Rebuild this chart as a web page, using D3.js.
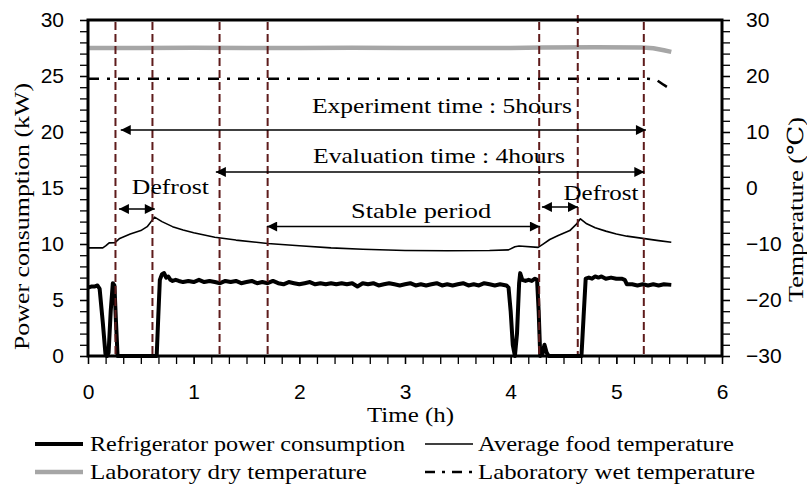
<!DOCTYPE html>
<html>
<head>
<meta charset="utf-8">
<script src="https://cdn.jsdelivr.net/npm/d3@7"></script>
<style>
  html, body { margin: 0; padding: 0; background: #fff; }
  svg { display: block; }
  .serif { font-family: "Liberation Serif", "DejaVu Serif", "Times New Roman", serif; }
  .sans { font-family: "Liberation Sans", Arial, Helvetica, sans-serif; }
</style>
</head>
<body>
<svg id="chart" width="807" height="497"></svg>
<script>
// ---------------- DATA ----------------
const xTicks = [0, 1, 2, 3, 4, 5, 6];
const powerTicks = [0, 5, 10, 15, 20, 25, 30];
const tempTicks = [-30, -20, -10, 0, 10, 20, 30];

// Refrigerator power consumption (kW) : [time h, kW]
const powerData = [
  [0,6.1],[0.03,6.2],[0.06,6.2],[0.09,6.3],[0.11,6.0],[0.14,3.0],[0.165,0.2],[0.18,0],[0.195,0.3],
  [0.215,4.0],[0.235,6.5],[0.25,6.3],[0.265,3.0],[0.28,0],[0.65,0],[0.665,3.5],[0.68,6.8],[0.70,7.3],
  [0.72,7.4],[0.74,7.0],[0.76,7.1],[0.78,6.8],[0.80,6.7],[0.83,6.8],[0.86,6.7],[0.90,6.6],[0.95,6.7],
  [1.00,6.6],[1.05,6.8],[1.10,6.6],[1.15,6.7],[1.20,6.6],[1.25,6.5],[1.30,6.7],[1.35,6.6],[1.40,6.7],
  [1.45,6.5],[1.50,6.6],[1.55,6.7],[1.60,6.5],[1.65,6.6],[1.70,6.5],[1.75,6.7],[1.80,6.5],[1.85,6.4],
  [1.90,6.6],[1.95,6.5],[2.00,6.4],[2.05,6.5],[2.10,6.6],[2.15,6.4],[2.20,6.5],[2.25,6.4],[2.30,6.5],
  [2.35,6.4],[2.40,6.5],[2.45,6.4],[2.50,6.5],[2.55,6.2],[2.60,6.5],[2.65,6.4],[2.70,6.5],[2.75,6.3],
  [2.80,6.4],[2.85,6.5],[2.90,6.4],[2.95,6.3],[3.00,6.4],[3.05,6.5],[3.10,6.3],[3.15,6.4],[3.20,6.3],
  [3.25,6.4],[3.30,6.5],[3.35,6.3],[3.40,6.4],[3.45,6.3],[3.50,6.4],[3.55,6.5],[3.60,6.3],[3.65,6.4],
  [3.70,6.3],[3.75,6.5],[3.80,6.4],[3.85,6.3],[3.90,6.4],[3.96,6.3],[3.98,6.1],[4.00,4.0],[4.02,1.0],
  [4.04,0],[4.06,2.0],[4.08,6.5],[4.09,7.4],[4.11,6.8],[4.14,6.7],[4.17,6.8],[4.20,6.7],[4.23,6.9],
  [4.25,6.8],[4.265,4.0],[4.28,0],[4.30,0.2],[4.32,1.0],[4.34,0.3],[4.36,0],[4.67,0],[4.69,3.5],
  [4.71,6.9],[4.74,7.0],[4.77,6.9],[4.80,7.1],[4.83,7.0],[4.86,7.1],[4.90,6.9],[4.95,7.0],[5.00,6.9],
  [5.05,6.9],[5.08,6.8],[5.10,6.4],[5.15,6.4],[5.20,6.3],[5.25,6.4],[5.30,6.3],[5.35,6.4],[5.40,6.3],
  [5.45,6.4],[5.52,6.35]
];

// Average food temperature (°C)
const foodTemp = [
  [0,-10.7],[0.14,-10.7],[0.17,-10.3],[0.20,-9.8],[0.255,-9.75],[0.30,-9.0],[0.40,-8.2],[0.50,-7.6],
  [0.56,-6.9],[0.63,-5.2],[0.70,-6.0],[0.80,-6.9],[0.90,-7.5],[1.00,-8.0],[1.20,-8.8],[1.40,-9.3],
  [1.70,-9.9],[2.00,-10.3],[2.30,-10.7],[2.60,-10.95],[3.00,-11.15],[3.40,-11.2],[3.80,-11.15],
  [3.98,-11.05],[4.04,-10.5],[4.08,-10.35],[4.26,-10.6],[4.30,-10.1],[4.37,-9.2],[4.45,-8.5],
  [4.56,-7.6],[4.62,-6.5],[4.66,-5.5],[4.72,-6.4],[4.80,-7.1],[4.90,-7.7],[5.00,-8.2],[5.10,-8.6],
  [5.25,-9.0],[5.40,-9.4],[5.52,-9.7]
];

// Laboratory dry temperature (°C)
const dryTemp = [
  [0,25.0],[0.5,25.0],[1.0,25.05],[1.5,25.0],[2.0,25.0],[2.5,25.05],[3.0,25.0],[3.5,25.0],[4.0,25.0],
  [4.3,25.1],[4.8,25.15],[5.25,25.1],[5.35,24.95],[5.45,24.6],[5.52,24.3]
];

// Laboratory wet temperature (°C)
const wetTemp = [
  [0,19.5],[1.0,19.5],[2.0,19.5],[3.0,19.5],[4.0,19.5],[5.0,19.5],[5.3,19.5],[5.38,19.3],[5.45,18.4],[5.52,17.6]
];

// Reference vertical lines (h)
const markerTimes = [0.26, 0.61, 1.245, 1.70, 4.27, 4.635, 5.26];

// Double-arrow annotations
const arrows = [
  { label: "Experiment time : 5hours", x0: 0.31, x1: 5.28, y: 20.18, tx: 2.12, ty: 21.7, len: 260 },
  { label: "Evaluation time : 4hours", x0: 1.21, x1: 5.265, y: 16.43, tx: 2.13, ty: 17.2, len: 252 },
  { label: "Stable period", x0: 1.695, x1: 4.277, y: 11.56, tx: 2.49, ty: 12.3, len: 140 },
  { label: "Defrost", x0: 0.293, x1: 0.632, y: 13.125, tx: 0.415, ty: 14.45, len: 77 },
  { label: "Defrost", x0: 4.296, x1: 4.637, y: 13.3, tx: 4.50, ty: 13.9, len: 75 }
];

const legendItems = [
  { label: "Refrigerator power consumption", type: "power", col: 0, row: 0, len: 315 },
  { label: "Average food temperature", type: "food", col: 1, row: 0, len: 256 },
  { label: "Laboratory dry temperature", type: "dry", col: 0, row: 1, len: 277 },
  { label: "Laboratory wet temperature", type: "wet", col: 1, row: 1, len: 277 }
];

// ---------------- LAYOUT ----------------
const svg = d3.select("#chart");
const L = 88, T = 20, R = 722, B = 356;
const x = d3.scaleLinear().domain([0, 6]).range([L, R]);
const yP = d3.scaleLinear().domain([0, 30]).range([B, T]);
const yT = d3.scaleLinear().domain([-30, 30]).range([B, T]);

const styles = {
  power: { stroke: "#000", width: 4, dash: null },
  food: { stroke: "#000", width: 1.6, dash: null },
  dry: { stroke: "#a6a6a6", width: 4.5, dash: null },
  wet: { stroke: "#000", width: 2.6, dash: "11,8,3,8" }
};

// ---------------- AXES ----------------
function styleAxis(g) {
  g.select(".domain").remove();
  g.attr("font-family", null).attr("font-size", null);
  g.selectAll(".tick line").attr("stroke", "#000").attr("stroke-width", 1.3);
  g.selectAll(".tick text").attr("class", "sans").style("font-size", "21px").attr("fill", "#000");
}

svg.append("g").attr("transform", `translate(0,${B})`)
  .call(d3.axisBottom(x).tickValues(d3.range(0, 37).map(i => i / 6)).tickSize(8).tickFormat(""))
  .call(styleAxis);
svg.append("g").attr("transform", `translate(0,${B})`)
  .call(d3.axisBottom(x).tickValues(xTicks).tickSize(8).tickPadding(20).tickFormat(d3.format("d")))
  .call(styleAxis);

svg.append("g").attr("transform", `translate(${L},0)`)
  .call(d3.axisLeft(yP).tickValues(d3.range(0, 31)).tickSize(8).tickFormat(""))
  .call(styleAxis);
svg.append("g").attr("transform", `translate(${L},0)`)
  .call(d3.axisLeft(yP).tickValues(powerTicks).tickSize(8).tickPadding(16).tickFormat(d3.format("d")))
  .call(styleAxis);

svg.append("g").attr("transform", `translate(${R},0)`)
  .call(d3.axisRight(yT).tickValues(d3.range(-30, 31, 2)).tickSize(8).tickFormat(""))
  .call(styleAxis);
svg.append("g").attr("transform", `translate(${R},0)`)
  .call(d3.axisRight(yT).tickValues(tempTicks).tickSize(8).tickPadding(16).tickFormat(d3.format("d")))
  .call(styleAxis);

// ---------------- LINES ----------------
const linePower = d3.line().x(d => x(d[0])).y(d => yP(d[1]));
const lineTemp = d3.line().x(d => x(d[0])).y(d => yT(d[1]));

function drawLine(data, gen, st) {
  const p = svg.append("path").datum(data).attr("d", gen)
    .attr("fill", "none").attr("stroke", st.stroke).attr("stroke-width", st.width)
    .attr("stroke-linejoin", "round").attr("stroke-linecap", "butt");
  if (st.dash) p.attr("stroke-dasharray", st.dash);
  return p;
}

drawLine(dryTemp, lineTemp, styles.dry);
drawLine(wetTemp, lineTemp, styles.wet);
drawLine(foodTemp, lineTemp, styles.food);
drawLine(powerData, linePower, styles.power);

svg.append("g").selectAll("line").data(markerTimes).join("line")
  .attr("x1", d => x(d)).attr("x2", d => x(d))
  .attr("y1", (d, i) => i === 5 ? T - 5 : T + 2).attr("y2", B - 2)
  .attr("stroke", "#5e1b1b").attr("stroke-width", 2).attr("stroke-dasharray", "8,4");

svg.append("rect").attr("x", L).attr("y", T).attr("width", R - L).attr("height", B - T)
  .attr("fill", "none").attr("stroke", "#000").attr("stroke-width", 3);

// ---------------- ANNOTATIONS ----------------
const defs = svg.append("defs");
["start", "end"].forEach(k => {
  defs.append("marker").attr("id", "arr-" + k)
    .attr("viewBox", "0 0 10 10").attr("refX", k === "end" ? 10 : 0).attr("refY", 5)
    .attr("markerUnits", "userSpaceOnUse").attr("markerWidth", 12).attr("markerHeight", 10)
    .attr("orient", "auto")
    .append("path")
    .attr("d", k === "end" ? "M0,0 L10,5 L0,10 Z" : "M10,0 L0,5 L10,10 Z")
    .attr("fill", "#000");
});

const ann = svg.append("g");
arrows.forEach(a => {
  ann.append("line")
    .attr("x1", x(a.x0)).attr("x2", x(a.x1)).attr("y1", yP(a.y)).attr("y2", yP(a.y))
    .attr("stroke", "#000").attr("stroke-width", 1.6)
    .attr("marker-start", "url(#arr-start)").attr("marker-end", "url(#arr-end)");
  ann.append("text").attr("class", "serif").attr("x", x(a.tx)).attr("y", yP(a.ty))
    .style("font-size", "22px").attr("fill", "#000")
    .attr("textLength", a.len).attr("lengthAdjust", "spacingAndGlyphs")
    .text(a.label);
});

// ---------------- TITLES ----------------
svg.append("text").attr("class", "serif").attr("x", 367).attr("y", 422)
  .style("font-size", "21px")
  .attr("textLength", 87).attr("lengthAdjust", "spacingAndGlyphs")
  .text("Time (h)");

svg.append("text").attr("class", "serif").attr("transform", "translate(29,350) rotate(-90)")
  .style("font-size", "22px")
  .attr("textLength", 267).attr("lengthAdjust", "spacingAndGlyphs")
  .text("Power consumption (kW)");

svg.append("text").attr("class", "serif").attr("transform", "translate(803,302) rotate(-90)")
  .style("font-size", "22px")
  .attr("textLength", 185).attr("lengthAdjust", "spacingAndGlyphs")
  .text("Temperature (℃)");

// ---------------- LEGEND ----------------
const colX = [35, 425], colW = [48, 48], rowY = [444, 472];
const leg = svg.append("g");
legendItems.forEach(it => {
  const st = styles[it.type];
  const lx = colX[it.col], ly = rowY[it.row];
  const ln = leg.append("line").attr("x1", lx).attr("x2", lx + colW[it.col])
    .attr("y1", ly).attr("y2", ly)
    .attr("stroke", st.stroke).attr("stroke-width", st.width);
  if (st.dash) ln.attr("stroke-dasharray", "10,7,3,7");
  leg.append("text").attr("class", "serif").attr("x", lx + colW[it.col] + (it.col === 0 ? 7 : 5)).attr("y", ly + 7)
    .style("font-size", "21px")
    .attr("textLength", it.len).attr("lengthAdjust", "spacingAndGlyphs")
    .text(it.label);
});
</script>
</body>
</html>
